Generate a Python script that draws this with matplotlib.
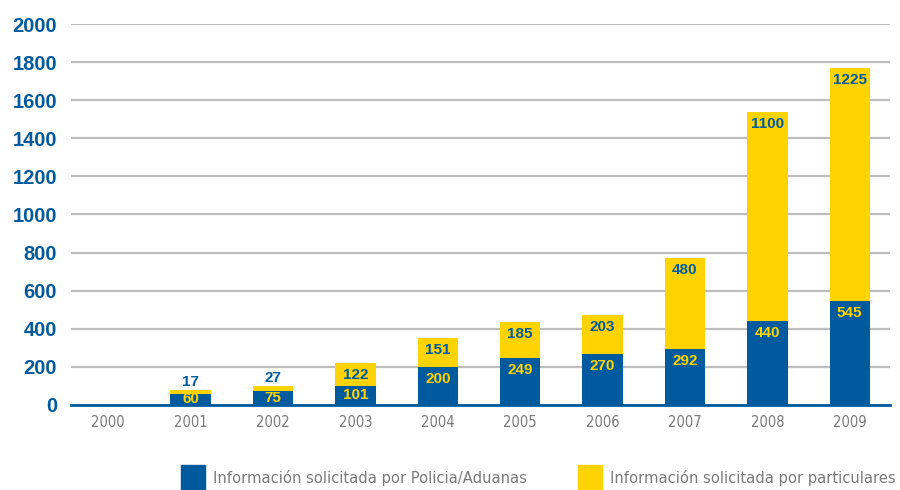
import numpy as np
import matplotlib.pyplot as plt
from matplotlib.patches import Rectangle
from matplotlib import font_manager as fm

plt.rcParams.update({
    'font.family': ['Liberation Sans', 'DejaVu Sans'],
})

BLUE = '#005B9E'
YELLOW = '#FFD300'
GRID = '#BDBDBD'
GRAY = '#7A7A7A'

years = ['2000', '2001', '2002', '2003', '2004', '2005', '2006', '2007', '2008', '2009']
policia = [0, 60, 75, 101, 200, 249, 270, 292, 440, 545]
particulares = [0, 17, 27, 122, 151, 185, 203, 480, 1100, 1225]
labels = ['Información solicitada por Policia/Aduanas',
          'Información solicitada por particulares']

# fonte condensada (rótulos do eixo x e legenda)
cond = [f.fname for f in fm.fontManager.ttflist
        if ('Condensed' in f.fname or 'Narrow' in f.fname)
        and not any(k in f.fname for k in ('Bold', 'Oblique', 'Italic'))]


def narrow(size):
    if cond:
        return fm.FontProperties(fname=sorted(cond)[0], size=size)
    return fm.FontProperties(family='DejaVu Sans', size=size * 0.85)


fig = plt.figure(figsize=(9, 4.9), dpi=100)
ax = fig.add_axes([0.079, 0.1735, 0.91, 0.7775])

x = np.arange(len(years))
w = 0.49
ax.bar(x, policia, w, color=BLUE, zorder=3)
ax.bar(x, particulares, w, bottom=policia, color=YELLOW, zorder=3)

off = 63  # ~12 px em unidades de dados
for i in range(len(years)):
    b, p = policia[i], particulares[i]
    if b > 0:
        ax.text(x[i], max(b - off, b / 2), str(b), ha='center', va='center',
                color=YELLOW, fontsize=11, fontweight='bold', zorder=4)
    if p > 0:
        top = b + p
        yy = top - off if p >= 100 else top + 42
        ax.text(x[i], yy, str(p), ha='center', va='center',
                color=BLUE, fontsize=11, fontweight='bold', zorder=4)

ax.set_xlim(-0.45, 9.49)
ax.set_ylim(0, 2000)
ax.set_yticks(np.arange(0, 2001, 200))
ax.set_xticks(x)
ax.set_xticklabels(years, color=GRAY, fontproperties=narrow(10.5))
for t in ax.get_yticklabels():
    t.set_color(BLUE)
    t.set_fontsize(14.5)
    t.set_fontweight('bold')
ax.tick_params(axis='both', length=0)
ax.tick_params(axis='y', pad=10)
ax.tick_params(axis='x', pad=7)
for s in ['top', 'right', 'left']:
    ax.spines[s].set_visible(False)
ax.spines['bottom'].set_color(BLUE)
ax.spines['bottom'].set_linewidth(2)
ax.spines['bottom'].set_zorder(5)
ax.yaxis.grid(True, color=GRID, linewidth=1.6)
ax.set_axisbelow(True)

# legenda
for (sx, tx), col, lab in zip([(0.201, 0.237), (0.642, 0.678)], [BLUE, YELLOW], labels):
    fig.add_artist(Rectangle((sx, 0.0), 0.0267, 0.051, transform=fig.transFigure,
                             color=col, clip_on=False))
    fig.text(tx, 0.024, lab, color=GRAY, fontproperties=narrow(11.8),
             ha='left', va='center')

fig.savefig('out.png', dpi=100)
